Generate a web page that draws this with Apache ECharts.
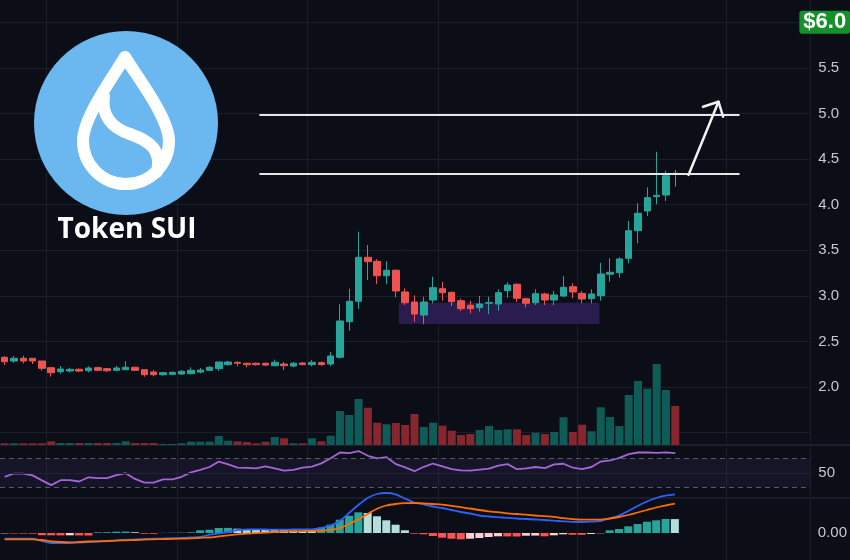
<!DOCTYPE html>
<html>
<head>
<meta charset="utf-8">
<script src="https://cdn.jsdelivr.net/npm/echarts@6/dist/echarts.min.js"></script>
<style>
html,body{margin:0;padding:0;background:#0b0e17;}
#chart{width:850px;height:560px;}
</style>
</head>
<body>
<div id="chart"></div>
<script>
// ---------- DATA ----------
const opens  = [2.326,2.285,2.315,2.315,2.285,2.212,2.168,2.175,2.194,2.179,2.212,2.201,2.183,2.190,2.216,2.190,2.164,2.135,2.139,2.142,2.146,2.164,2.183,2.201,2.245,2.271,2.260,2.260,2.260,2.234,2.252,2.230,2.263,2.245,2.267,2.252,2.326,2.716,2.940,3.422,3.378,3.220,3.280,3.042,2.932,2.789,2.954,3.078,3.038,2.946,2.896,2.870,2.918,2.910,3.056,3.126,2.968,2.924,3.020,2.954,2.998,3.100,3.027,2.968,3.001,3.236,3.253,3.411,3.714,3.930,4.087,4.105,4.343];
const closes = [2.277,2.315,2.285,2.285,2.205,2.157,2.197,2.194,2.175,2.208,2.183,2.179,2.208,2.216,2.183,2.135,2.135,2.157,2.161,2.172,2.183,2.186,2.216,2.274,2.274,2.260,2.245,2.245,2.241,2.271,2.234,2.260,2.245,2.271,2.245,2.340,2.724,2.940,3.422,3.374,3.220,3.280,3.053,2.924,2.800,2.932,3.089,3.034,2.935,2.859,2.859,2.910,2.925,3.034,3.118,2.973,2.918,3.023,2.954,3.009,3.093,3.042,2.965,3.020,3.239,3.258,3.404,3.714,3.905,4.076,4.102,4.317,4.332];
const lows   = [2.241,2.266,2.259,2.252,2.179,2.113,2.146,2.161,2.164,2.161,2.172,2.164,2.172,2.190,2.175,2.113,2.117,2.124,2.128,2.135,2.139,2.150,2.175,2.175,2.234,2.227,2.216,2.234,2.227,2.227,2.186,2.216,2.238,2.227,2.234,2.230,2.310,2.617,2.855,3.173,3.129,3.129,2.984,2.899,2.716,2.688,2.918,2.946,2.888,2.833,2.808,2.826,2.800,2.837,2.979,2.935,2.874,2.899,2.899,2.899,2.984,2.973,2.918,2.918,2.946,3.155,3.198,3.356,3.576,3.875,4.003,4.040,4.196];
const highs  = [2.340,2.340,2.343,2.318,2.285,2.219,2.230,2.212,2.204,2.227,2.223,2.208,2.230,2.282,2.223,2.197,2.186,2.164,2.168,2.186,2.216,2.208,2.230,2.274,2.288,2.279,2.267,2.267,2.267,2.300,2.274,2.274,2.274,2.297,2.279,2.384,2.907,3.075,3.703,3.557,3.400,3.378,3.290,3.082,3.005,2.990,3.209,3.151,3.045,2.968,2.943,2.998,2.990,3.071,3.148,3.137,2.979,3.071,3.034,3.053,3.217,3.137,3.053,3.071,3.363,3.411,3.422,3.820,4.014,4.190,4.580,4.372,4.379];
const volumes = [1.7,1.7,1.7,1.7,1.7,3.7,2,2,2,2,2,2,2,3.7,2,2,2,1,1,1.7,3.3,3.3,3.3,9,4.3,3.7,3,1.7,3.3,8,6.7,1.7,1.7,6.7,3.7,9.3,34,30,46,37.3,22.3,20.7,22,20,31,18,22.3,19.3,14.3,10,11,15,19,15,15.7,15.7,10,12.3,11,13,27.7,13,20.3,13.7,37.7,28,19,50,64,56.3,81,55,39];
const rsiValues = [44.5,49,49,46.5,39.5,33,39.8,39.8,38,43.8,42.6,42.6,46.7,49.5,41.5,36.5,36.5,40.8,41,44.5,50.5,54,58,65.5,61.5,57.2,56.9,56,59,56,53,54,57,58.5,63,70,78,77,80,73.5,70,71.5,62,57.5,52.2,58.3,62.8,59,55.2,53.3,53,54.5,55.7,60,62,55,56,58,56.5,61.5,62.5,57,55,58,65.5,67.2,70.7,75.8,78,78,77.6,78.3,77.2];
const macdValues = [-0.0285,-0.0285,-0.0285,-0.0285,-0.040,-0.050,-0.050,-0.050,-0.0475,-0.045,-0.0425,-0.040,-0.0365,-0.034,-0.0315,-0.030,-0.0285,-0.0275,-0.026,-0.025,-0.0225,-0.020,-0.0085,-0.002,0.005,0.015,0.0175,0.0185,0.0175,0.0165,0.0165,0.0175,0.018,0.0185,0.025,0.0375,0.060,0.100,0.140,0.175,0.195,0.200,0.1935,0.1725,0.1525,0.1435,0.1325,0.125,0.115,0.105,0.0975,0.0875,0.0825,0.079,0.076,0.0725,0.070,0.0675,0.065,0.0615,0.0585,0.056,0.055,0.0565,0.060,0.0725,0.0875,0.110,0.135,0.1575,0.175,0.1865,0.1935];
const signalValues = [-0.0315,-0.0315,-0.0315,-0.0315,-0.035,-0.0415,-0.045,-0.0465,-0.045,-0.0425,-0.0415,-0.040,-0.038,-0.0365,-0.035,-0.033,-0.0315,-0.0305,-0.0295,-0.0285,-0.0265,-0.024,-0.0225,-0.017,-0.0115,-0.0065,-0.0035,-0.0005,0.002,0.005,0.007,0.0085,0.0095,0.011,0.012,0.0145,0.024,0.045,0.068,0.095,0.1215,0.1375,0.145,0.149,0.150,0.1485,0.145,0.1415,0.136,0.129,0.1225,0.115,0.1085,0.104,0.0985,0.095,0.0915,0.0875,0.084,0.081,0.074,0.069,0.0665,0.0665,0.0665,0.0725,0.080,0.090,0.1025,0.115,0.1275,0.1375,0.1465];
const histValues = [-0.002,-0.0025,-0.003,-0.0035,-0.011,-0.0115,-0.012,-0.0115,-0.012,-0.0125,0.0035,0.004,0.0065,0.007,0.004,-0.0035,-0.004,0.001,0.0015,0.002,0.0035,0.0135,0.0165,0.025,0.0255,0.0215,0.0185,0.018,0.0175,0.015,0.0145,0.013,0.011,0.0105,0.0265,0.0415,0.0665,0.0865,0.1035,0.100,0.0835,0.0635,0.0415,0.0135,-0.0035,-0.0065,-0.015,-0.0235,-0.0285,-0.0315,-0.0285,-0.025,-0.020,-0.0165,-0.017,-0.0175,-0.0135,-0.013,-0.0165,-0.0115,-0.0065,-0.0085,-0.009,-0.005,-0.0015,0.0135,0.020,0.0335,0.045,0.0565,0.0635,0.070,0.0695];
const priceTickLabels = ['2.0','2.5','3.0','3.5','4.0','4.5','5.0','5.5'];
const rsiBands = [30, 50, 70];
const badgePrice = 6.0;
const badgeText = '$6.0';
// annotations in (slot index, price) space
const levelPrices = [4.336, 4.982];
const levelSpan = [27.35, 78.9];
const arrowShaft = [[73.42, 4.325], [76.64, 5.128]];
const arrowHead = [[74.98, 5.073], [76.64, 5.128], [77.13, 4.964]];
const zoneX = [42.33, 63.86];
const zoneY = [2.69, 2.924];
const TOTAL_SLOTS = 87;
const categories = Array.from({length: TOTAL_SLOTS}, (_, i) => 'D' + (i + 1));

// ---------- STYLE ----------
const BG = '#0b0e17', GRIDC = '#1a1e29';
const UP = '#26a69a', DOWN = '#ef5350';
const VUP = '#0e5c57', VDOWN = '#86262f';
const FONT = 'Liberation Sans, Arial, sans-serif';
const L = -1.67, W = 812;

const candleData = opens.map((o, i) => [o, closes[i], lows[i], highs[i]]);
const volData = volumes.map((v, i) => ({value: v, itemStyle: {color: closes[i] >= opens[i] ? VUP : VDOWN}}));
const histData = histValues.map((v, i) => {
  const prev = i > 0 ? histValues[i - 1] : v;
  let c;
  if (v >= 0) c = v > prev ? '#26a69a' : '#b2dfdb';
  else c = v < prev ? '#ff5252' : '#ffcdd2';
  return {value: v, itemStyle: {color: c}};
});

const hiddenCat = (gi) => ({type: 'category', gridIndex: gi, data: categories, boundaryGap: true, show: false});
const logoStroke = {fill: 'none', stroke: '#ffffff', lineWidth: 12, lineCap: 'round'};

const chart = echarts.init(document.getElementById('chart'), null, {renderer: 'canvas'});
const option = {
  backgroundColor: BG,
  animation: false,
  grid: [
    {left: L, width: W, top: 22.2, height: 410.4},
    {left: L, width: W, top: 345, height: 100},
    {left: L, width: W, top: 443.8, height: 58},
    {left: L, width: W, top: 488, height: 72},
    {left: L, width: W, top: 0, height: 560}
  ],
  xAxis: [
    hiddenCat(0), hiddenCat(1), hiddenCat(2), hiddenCat(3),
    {type: 'category', gridIndex: 4, data: categories, boundaryGap: true,
     axisLine: {show: false}, axisTick: {show: false}, axisLabel: {show: false},
     splitLine: {show: true, interval: (idx) => [5, 19, 33, 47, 62, 78].includes(idx), lineStyle: {color: GRIDC, width: 1}}},
    {type: 'value', gridIndex: 0, min: -0.5, max: TOTAL_SLOTS - 0.5, show: false}
  ],
  yAxis: [
    {type: 'value', gridIndex: 0, position: 'right', min: 1.5, max: 6.0, interval: 0.5,
     axisLine: {show: false}, axisTick: {show: false},
     axisLabel: {margin: 8, color: '#c5c8cf', fontSize: 15, fontFamily: FONT,
       formatter: (v) => { const s = v.toFixed(1); return priceTickLabels.includes(s) ? s : ''; }},
     splitLine: {show: true, lineStyle: {color: GRIDC, width: 1}}},
    {type: 'value', gridIndex: 1, min: 0, max: 100, show: false},
    {type: 'value', gridIndex: 2, position: 'right', min: 10, max: 90, interval: 10,
     axisLine: {show: false}, axisTick: {show: false}, splitLine: {show: false},
     axisLabel: {margin: 8, color: '#c5c8cf', fontSize: 15, fontFamily: FONT,
       formatter: (v) => Math.abs(v - 50) < 1e-6 ? '50' : ''}},
    {type: 'value', gridIndex: 3, position: 'right', min: -0.135, max: 0.225, interval: 0.045,
     axisLine: {show: false}, axisTick: {show: false}, splitLine: {show: false},
     axisLabel: {margin: 8, color: '#c5c8cf', fontSize: 15, fontFamily: FONT,
       formatter: (v) => Math.abs(v) < 1e-6 ? '0.00' : ''}},
    {type: 'value', gridIndex: 4, show: false}
  ],
  series: [
    {name: 'zone', type: 'line', xAxisIndex: 5, yAxisIndex: 0, z: 1, data: [[zoneX[0], zoneY[0]], [zoneX[1], zoneY[0]]],
     symbol: 'none', lineStyle: {opacity: 0}, silent: true,
     markArea: {silent: true, itemStyle: {color: '#2a1c4f'},
       data: [[{coord: [zoneX[0], zoneY[1]]}, {coord: [zoneX[1], zoneY[0]]}]]}},
    {name: 'volume', type: 'bar', xAxisIndex: 1, yAxisIndex: 1, barWidth: 8, data: volData, z: 2},
    {name: 'SUI', type: 'candlestick', xAxisIndex: 0, yAxisIndex: 0, barWidth: 7, z: 3, data: candleData,
     itemStyle: {color: UP, color0: DOWN, borderColor: UP, borderColor0: DOWN, borderWidth: 1},
     markLine: {silent: true, symbol: 'none', lineStyle: {color: 'rgba(0,0,0,0)', width: 0},
       label: {show: true, opacity: 1, position: 'end', distance: -11, formatter: badgeText, color: '#ffffff',
         fontWeight: 'bold', fontSize: 22, fontFamily: FONT, backgroundColor: '#16912a',
         padding: [1, 4, 0, 4], borderRadius: 3},
       data: [{yAxis: badgePrice}]}},
    ...levelPrices.map((p) => ({type: 'line', xAxisIndex: 5, yAxisIndex: 0, z: 4, symbol: 'none', silent: true,
      data: [[levelSpan[0], p], [levelSpan[1], p]], lineStyle: {color: '#e6e6e6', width: 2}})),
    {type: 'line', xAxisIndex: 5, yAxisIndex: 0, z: 4, symbol: 'none', silent: true, data: arrowShaft,
     lineStyle: {color: '#f2f2f2', width: 2.5, cap: 'round'}},
    {type: 'line', xAxisIndex: 5, yAxisIndex: 0, z: 4, symbol: 'none', silent: true, data: arrowHead,
     lineStyle: {color: '#f2f2f2', width: 2.5, cap: 'round', join: 'round'}},
    {name: 'RSI', type: 'line', xAxisIndex: 2, yAxisIndex: 2, symbol: 'none', data: rsiValues, z: 3,
     lineStyle: {color: '#a366d6', width: 1.8},
     markArea: {silent: true, itemStyle: {color: 'rgba(126,87,194,0.10)'}, data: [[{yAxis: rsiBands[0]}, {yAxis: rsiBands[2]}]]},
     markLine: {silent: true, symbol: 'none', label: {show: false},
       data: [
         {yAxis: rsiBands[2], lineStyle: {color: '#575b66', type: [5, 4], width: 1}},
         {yAxis: rsiBands[0], lineStyle: {color: '#575b66', type: [5, 4], width: 1}},
         {yAxis: rsiBands[1], lineStyle: {color: '#24223a', type: 'solid', width: 1}}
       ]}},
    {name: 'Histogram', type: 'bar', xAxisIndex: 3, yAxisIndex: 3, barWidth: 8, data: histData, z: 2},
    {name: 'MACD', type: 'line', xAxisIndex: 3, yAxisIndex: 3, symbol: 'none', smooth: 0.3, data: macdValues, z: 3,
     lineStyle: {color: '#2962ff', width: 1.8}},
    {name: 'Signal', type: 'line', xAxisIndex: 3, yAxisIndex: 3, symbol: 'none', smooth: 0.3, data: signalValues, z: 3,
     lineStyle: {color: '#ff6d00', width: 1.8}}
  ],
  graphic: [
    {type: 'rect', silent: true, z: 0, shape: {x: 0, y: 444, width: 850, height: 2}, style: {fill: '#1c202c'}},
    {type: 'rect', silent: true, z: 0, shape: {x: 0, y: 497, width: 850, height: 2}, style: {fill: '#1a1d29'}},
    {type: 'circle', silent: true, z: 10, shape: {cx: 126, cy: 123, r: 92}, style: {fill: '#6bb8f0'}},
    {type: 'bezierCurve', silent: true, z: 11, shape: {x1: 125, y1: 57, cpx1: 112, cpy1: 78, cpx2: 83, cpy2: 118, x2: 83, y2: 141}, style: logoStroke},
    {type: 'arc', silent: true, z: 11, shape: {cx: 126, cy: 141, r: 43, startAngle: 0, endAngle: Math.PI, clockwise: true}, style: logoStroke},
    {type: 'bezierCurve', silent: true, z: 11, shape: {x1: 169, y1: 141, cpx1: 169, cpy1: 118, cpx2: 138, cpy2: 78, x2: 125, y2: 57}, style: logoStroke},
    {type: 'bezierCurve', silent: true, z: 11, shape: {x1: 104, y1: 96, cpx1: 101, cpy1: 116, cpx2: 112, cpy2: 128, x2: 130, y2: 134}, style: logoStroke},
    {type: 'bezierCurve', silent: true, z: 11, shape: {x1: 130, y1: 134, cpx1: 150, cpy1: 141, cpx2: 162, cpy2: 150, x2: 157, y2: 172}, style: logoStroke},
    {type: 'text', silent: true, z: 11, style: {text: 'Token SUI', x: 127, y: 230, align: 'center', verticalAlign: 'middle',
      fill: '#ffffff', font: 'bold 28px "Open Sans", sans-serif'}}
  ]
};
chart.setOption(option);
</script>
</body>
</html>
